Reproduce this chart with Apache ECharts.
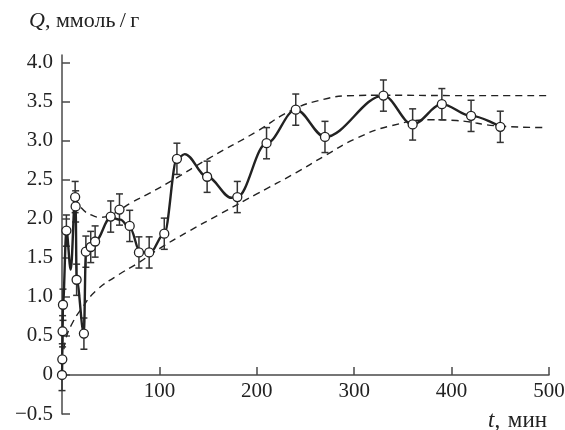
<!DOCTYPE html>
<html>
<head>
<meta charset="utf-8">
<script src="https://cdn.jsdelivr.net/npm/echarts@6/dist/echarts.min.js"></script>
<style>
  html, body { margin: 0; padding: 0; background: #fff; }
  #chart { width: 565px; height: 430px; }
</style>
</head>
<body>
<div id="chart"></div>
<script>
// Measured sorption points: time (min), Q (mmol/g), error half-width
const pointT = [0, 0.3, 0.6, 1.0, 4.5, 13.5, 14, 15, 22.5, 24.5, 29.5, 34, 50, 59, 69.5, 79, 89.5, 105, 118, 149, 180, 210, 240, 270, 330, 360, 390, 420, 450];
const pointQ = [0, 0.20, 0.56, 0.90, 1.85, 2.28, 2.16, 1.22, 0.53, 1.58, 1.64, 1.71, 2.03, 2.12, 1.91, 1.57, 1.57, 1.81, 2.77, 2.54, 2.28, 2.97, 3.40, 3.05, 3.58, 3.21, 3.47, 3.32, 3.18];
const pointErr = [0.2, 0.2, 0.2, 0.2, 0.2, 0.2, 0.2, 0.2, 0.2, 0.2, 0.2, 0.2, 0.2, 0.2, 0.2, 0.2, 0.2, 0.2, 0.2, 0.2, 0.2, 0.2, 0.2, 0.2, 0.2, 0.2, 0.2, 0.2, 0.2];

// Solid kinetic curve
const curveT = [0, 0.3, 0.6, 1.0, 4.5, 9, 13.5, 14, 15, 22.5, 24.5, 29.5, 34, 50, 60, 70, 80, 90, 105, 118, 126, 149, 174, 180, 210, 240, 270, 330, 360, 390, 420, 450];
const curveQ = [0, 0.20, 0.56, 0.90, 1.85, 1.35, 2.28, 2.16, 1.22, 0.53, 1.58, 1.64, 1.71, 2.02, 1.99, 1.88, 1.58, 1.56, 1.81, 2.77, 2.83, 2.54, 2.27, 2.28, 2.97, 3.40, 3.05, 3.58, 3.21, 3.47, 3.32, 3.18];

// Upper dashed envelope
const upperT = [13.5, 20, 30, 40, 50, 60, 70, 90, 114, 150, 200, 234, 268, 300, 330, 400, 500];
const upperQ = [2.28, 2.14, 2.05, 2.02, 2.05, 2.12, 2.20, 2.33, 2.50, 2.77, 3.12, 3.38, 3.53, 3.58, 3.585, 3.58, 3.58];

// Lower dashed envelope
const lowerT = [2, 4, 10, 20, 35, 55, 80, 100, 130, 162, 200, 240, 270, 302, 337, 381, 405, 448, 495];
const lowerQ = [0.33, 0.47, 0.65, 0.85, 1.08, 1.26, 1.45, 1.62, 1.84, 2.06, 2.32, 2.59, 2.81, 3.03, 3.19, 3.27, 3.26, 3.19, 3.17];

// Axis ticks
const xTicks = [100, 200, 300, 400, 500];
const yTicks = [-0.5, 0, 0.5, 1.0, 1.5, 2.0, 2.5, 3.0, 3.5, 4.0];

const FONT = '"Liberation Serif", "DejaVu Serif", serif';
const INK = '#222';
const AXIS = '#4a4a4a';

const zip = (a, b) => a.map((v, i) => [v, b[i]]);
const points = zip(pointT, pointQ);
const errData = pointT.map((t, i) => [t, pointQ[i] - pointErr[i], pointQ[i] + pointErr[i]]);

const chart = echarts.init(document.getElementById('chart'), null, { renderer: 'canvas' });

chart.setOption({
  animation: false,
  backgroundColor: '#fff',
  grid: { left: 62, right: 16, top: 55, bottom: 16, containLabel: false, outerBoundsMode: 'none' },
  xAxis: {
    type: 'value',
    min: 0, max: 500, interval: 100,
    position: 'bottom',
    offset: 0,
    axisLine: { onZero: false, lineStyle: { color: AXIS, width: 1.5 } },
    axisTick: { inside: true, length: 8, lineStyle: { color: AXIS, width: 1.5 }, customValues: xTicks },
    axisLabel: {
      color: INK, fontFamily: FONT, fontSize: 21, margin: 6,
      customValues: xTicks,
      formatter: v => String(v)
    },
    splitLine: { show: false }
  },
  yAxis: {
    type: 'value',
    min: -0.5, max: 4.1, interval: 0.5,
    axisLine: { onZero: false, lineStyle: { color: AXIS, width: 1.5 } },
    axisTick: { inside: true, length: 8, lineStyle: { color: AXIS, width: 1.5 }, customValues: yTicks },
    axisLabel: {
      color: INK, fontFamily: FONT, fontSize: 21, margin: 9,
      customValues: yTicks,
      formatter: v => v === 0 ? '0' : (v < 0 ? '\u2212' + Math.abs(v).toFixed(1) : v.toFixed(1))
    },
    splitLine: { show: false }
  },
  graphic: [
    {
      type: 'text', x: 29, y: 21,
      style: {
        text: '{i|Q}, ммоль\u2009/\u2009г',
        fontFamily: FONT, fontSize: 22, fill: INK,
        verticalAlign: 'middle',
        rich: { i: { fontStyle: 'italic', fontFamily: FONT, fontSize: 22, fill: INK } }
      }
    },
    {
      type: 'text', x: 547, y: 421,
      style: {
        text: '{i|t}, \u200aмин',
        fontFamily: FONT, fontSize: 23, fill: INK,
        align: 'right', verticalAlign: 'middle',
        rich: { i: { fontStyle: 'italic', fontFamily: FONT, fontSize: 23, fill: INK } }
      }
    }
  ],
  series: [
    {
      type: 'line', data: zip(upperT, upperQ), smooth: 0.5, symbol: 'none', z: 2,
      lineStyle: { color: INK, width: 1.4, type: [7, 5] }
    },
    {
      type: 'line', data: zip(lowerT, lowerQ), smooth: 0.5, symbol: 'none', z: 2,
      lineStyle: { color: INK, width: 1.4, type: [7, 5] }
    },
    {
      type: 'custom', z: 3,
      data: errData,
      renderItem: (params, api) => {
        const lo = api.coord([api.value(0), api.value(1)]);
        const hi = api.coord([api.value(0), api.value(2)]);
        const w = 3.5;
        const st = { stroke: '#333', lineWidth: 1.5 };
        return {
          type: 'group',
          children: [
            { type: 'line', shape: { x1: lo[0], y1: lo[1], x2: hi[0], y2: hi[1] }, style: st },
            { type: 'line', shape: { x1: lo[0] - w, y1: lo[1], x2: lo[0] + w, y2: lo[1] }, style: st },
            { type: 'line', shape: { x1: hi[0] - w, y1: hi[1], x2: hi[0] + w, y2: hi[1] }, style: st }
          ]
        };
      }
    },
    {
      type: 'line', data: zip(curveT, curveQ), smooth: 0.35, smoothMonotone: 'x', symbol: 'none', z: 4,
      lineStyle: { color: INK, width: 2.4 }
    },
    {
      type: 'scatter', data: points, symbol: 'circle', symbolSize: 9, z: 5,
      itemStyle: { color: '#fff', borderColor: INK, borderWidth: 1.3, opacity: 1 }
    }
  ]
});

// Lift the time axis so it crosses the Q axis at Q = 0
const yZero = chart.convertToPixel({ yAxisIndex: 0 }, 0);
const yMin = chart.convertToPixel({ yAxisIndex: 0 }, -0.5);
chart.setOption({ xAxis: { offset: -(yMin - yZero) } });
</script>
</body>
</html>
